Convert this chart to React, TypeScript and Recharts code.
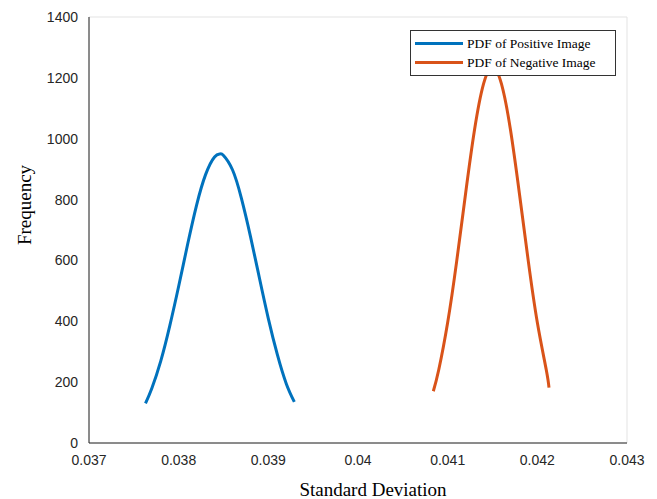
import React from "react";
import { LineChart, Line, XAxis, YAxis, CartesianGrid, Label } from "recharts";

const positiveX = [0.03763, 0.0377, 0.0378, 0.0379, 0.038, 0.0381, 0.0382, 0.0383, 0.0384, 0.03846, 0.0385, 0.0386, 0.0387, 0.0388, 0.0389, 0.039, 0.0391, 0.0392, 0.03929];
const positiveY = [130, 179, 269, 384, 515, 653, 782, 882, 940, 950, 945, 898, 804, 680, 543, 409, 291, 195, 135];
const negativeX = [0.04084, 0.0409, 0.041, 0.0411, 0.0412, 0.0413, 0.0414, 0.0415, 0.0416, 0.0417, 0.0418, 0.0419, 0.042, 0.0421, 0.04213];
const negativeY = [170, 240, 396, 596, 820, 1030, 1180, 1235, 1180, 1030, 820, 596, 396, 240, 182];
const xTicks = [0.037, 0.038, 0.039, 0.04, 0.041, 0.042, 0.043];
const yTicks = [0, 200, 400, 600, 800, 1000, 1200, 1400];
const seriesNames = ["PDF of Positive Image", "PDF of Negative Image"];
const seriesColors = ["#0072BD", "#D95319"];

const positiveData = positiveX.map((x, i) => ({ x, y: positiveY[i] }));
const negativeData = negativeX.map((x, i) => ({ x, y: negativeY[i] }));

const tickStyle = { fontFamily: "'Liberation Sans', Arial, sans-serif", fontSize: 14, fill: "#262626" };
const serif = "'Liberation Serif', 'Times New Roman', serif";

const LegendBox = () => (
  <div
    style={{
      position: "absolute",
      left: 402,
      top: 22,
      background: "#fff",
      border: "1px solid #333",
      padding: "3px 4px",
      fontFamily: serif,
      fontSize: 13.5,
      color: "#000",
      width: 206,
      boxSizing: "border-box",
      whiteSpace: "nowrap",
    }}
  >
    {seriesNames.map((n, i) => (
      <div key={n} style={{ display: "flex", alignItems: "center", height: 19 }}>
        <div style={{ width: 48, height: 3, background: seriesColors[i], marginRight: 4, flexShrink: 0 }} />
        <span>{n}</span>
      </div>
    ))}
  </div>
);

export default function App() {
  return (
    <div style={{ position: "relative", width: 649, height: 491 }}>
      <LineChart width={649} height={491} margin={{ top: 9, right: 30, left: 0, bottom: 0 }}>
        <CartesianGrid stroke="#e3e3e3" strokeWidth={1} />
        <XAxis
          xAxisId="b"
          type="number"
          dataKey="x"
          domain={[0.037, 0.043]}
          ticks={xTicks}
          allowDataOverflow
          height={56}
          tick={tickStyle}
          tickLine={false}
          stroke="#262626"
          tickMargin={6}
        >
          <Label value="Standard Deviation" position="insideBottom" offset={3} dx={15} style={{ fontFamily: serif, fontSize: 19, fill: "#000" }} />
        </XAxis>
        <XAxis xAxisId="t" orientation="top" type="number" domain={[0.037, 0.043]} ticks={xTicks} tick={false} tickLine={false} height={0} stroke="#262626" />
        <YAxis
          yAxisId="l"
          type="number"
          domain={[0, 1400]}
          ticks={yTicks}
          width={81}
          tick={tickStyle}
          tickLine={false}
          stroke="#262626"
          tickMargin={5}
        >
          <Label value="Frequency" angle={-90} position="insideLeft" offset={16} dy={-25} style={{ fontFamily: serif, fontSize: 19, fill: "#000", textAnchor: "middle" }} />
        </YAxis>
        <YAxis yAxisId="r" orientation="right" type="number" domain={[0, 1400]} ticks={yTicks} tick={false} tickLine={false} width={0} stroke="#262626" />
        <Line xAxisId="b" yAxisId="l" data={positiveData} dataKey="y" name={seriesNames[0]} stroke={seriesColors[0]} strokeWidth={3} dot={false} type="natural" isAnimationActive={false} />
        <Line xAxisId="b" yAxisId="l" data={negativeData} dataKey="y" name={seriesNames[1]} stroke={seriesColors[1]} strokeWidth={3} dot={false} type="natural" isAnimationActive={false} />
      </LineChart>
      <LegendBox />
    </div>
  );
}
